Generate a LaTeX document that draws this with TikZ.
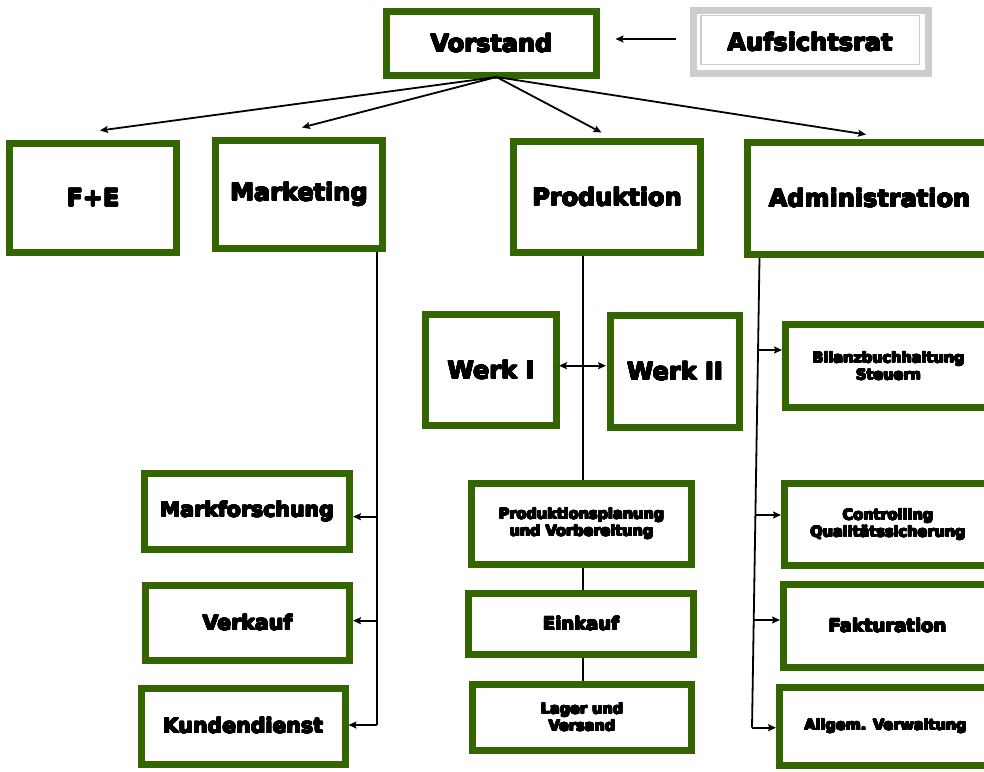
\documentclass[tikz,border=0pt]{standalone}
\usepackage{fontspec}
\usepackage{contour}
\contourlength{0.55pt}
\contournumber{16}
\newfontfamily\blk{DejaVu Sans Bold}
\newcommand\hv[1]{\contour{black}{#1}}
\usetikzlibrary{arrows.meta,backgrounds}
\definecolor{grn}{HTML}{336600}
\definecolor{lgr}{HTML}{CCCCCC}
\begin{document}
\begin{tikzpicture}[x=1pt,y=-1pt,
  box/.style={draw=grn,line width=7pt,fill=white,inner sep=0pt,align=center},
  fbig/.style={font=\blk\fontsize{24}{28}\selectfont},
  fmid/.style={font=\blk\fontsize{20.5}{24}\selectfont},
  fsm/.style={font=\blk\fontsize{18}{21}\selectfont},
  fxs/.style={font=\blk\fontsize{14.5}{17}\selectfont},
  ln/.style={line width=1.8pt,black},
  arr/.style={line width=1.8pt,black,-{Stealth[length=8pt,width=7pt,inset=1.5pt]}},
  darr/.style={line width=1.8pt,black,{Stealth[length=8pt,width=7pt,inset=1.5pt]}-{Stealth[length=8pt,width=7pt,inset=1.5pt]}}]
\useasboundingbox (0,0) rectangle (984,771);
\clip (0,0) rectangle (984,771);

% top level
\node[box,fbig,minimum width=210pt,minimum height=64pt] (vorstand) at (491.5,43.5) {\hv{Vorstand}};
\node[draw=lgr,line width=7pt,fill=white,inner sep=0pt,minimum width=235pt,minimum height=63pt] (aufs) at (811,42) {};
\node[draw=lgr,line width=1.5pt,inner sep=0pt,minimum width=218.5pt,minimum height=49pt] (aufsin) at (810.25,40) {};
\node[fbig] (aufstxt) at (810,42) {\hv{Aufsichtsrat}};

% second level
\node[box,fbig,minimum width=167pt,minimum height=109pt] (fe) at (93,198) {\hv{F+E}};
\node[box,fbig,minimum width=167pt,minimum height=108pt] (mkt) at (299,194.5) {\hv{Marketing}};
\node[box,fbig,minimum width=187pt,minimum height=111pt] (prod) at (607,197) {\hv{Produktion}};
\node[box,fbig,minimum width=244pt,minimum height=112.5pt] (admin) at (869.5,198.25) {\hv{Administration}};

% Werke
\node[box,fbig,minimum width=131pt,minimum height=111pt] (werk1) at (491,370) {\hv{Werk I}};
\node[box,fbig,minimum width=129pt,minimum height=112pt] (werk2) at (675,371.5) {\hv{Werk II}};

% Marketing column
\node[box,fmid,minimum width=205pt,minimum height=76pt] (markf) at (247,511.5) {\hv{Markforschung}};
\node[box,fmid,minimum width=204pt,minimum height=75pt] (verkauf) at (247.5,623) {\hv{Verkauf}};
\node[box,fmid,minimum width=204pt,minimum height=76pt] (kunden) at (243,726) {\hv{Kundendienst}};

% Produktion column
\node[box,fxs,minimum width=220pt,minimum height=80.7pt] (pp) at (581.5,524) {\hv{Produktionsplanung}\\\hv{und Vorbereitung}};
\node[box,fsm,minimum width=224.7pt,minimum height=60.7pt] (einkauf) at (581,624) {\hv{Einkauf}};
\node[box,fxs,minimum width=219pt,minimum height=66pt] (lager) at (582,717.3) {\hv{Lager und}\\\hv{Versand}};

% Administration column
\node[box,fxs,minimum width=206pt,minimum height=83pt] (bilanz) at (888.5,366) {\hv{Bilanzbuchhaltung}\\\hv{Steuern}};
\node[box,fxs,minimum width=207pt,minimum height=82pt] (contr) at (888,524.7) {\hv{Controlling}\\\hv{Qualitätssicherung}};
\node[box,fsm,minimum width=208pt,minimum height=83pt] (fakt) at (887.5,626) {\hv{Fakturation}};
\node[box,fxs,minimum width=212pt,minimum height=78pt] (allg) at (885.5,726.7) {\hv{Allgem. Verwaltung}};

% coordinates
\coordinate (vb) at (496.5,77);
\coordinate (mkb) at (377.3,725);
\coordinate (m1) at (377.3,516.7);
\coordinate (m2) at (377.3,620.7);
\coordinate (a1) at (758.0,350);
\coordinate (a2) at (755.4,515);
\coordinate (a3) at (753.7,620);
\coordinate (a4) at (752.0,727.7);

% connectors behind boxes
\begin{scope}[on background layer]
\fill[white] (0,0) rectangle (984,771);
\draw[ln] ([xshift=-24.3pt]prod.south) -- ([xshift=1.2pt]pp.north);
\draw[ln] ([xshift=1.2pt]pp.south) -- ([xshift=1.7pt]einkauf.north);
\draw[ln] ([xshift=1.7pt]einkauf.south) -- ([xshift=0.7pt]lager.north);
\draw[ln] ([xshift=78.3pt]mkt.south) -- (mkb);
\draw[ln] ([xshift=-110pt]admin.south) -- (a4);
\end{scope}

% arrows
\draw[arr] (vb) -- ([xshift=7pt,yshift=9.5pt]fe.north);
\draw[arr] (vb) -- ([xshift=3pt,yshift=9.5pt]mkt.north);
\draw[arr] (vb) -- ([xshift=-5.5pt,yshift=5.5pt]prod.north);
\draw[arr] (vb) -- ([xshift=-3.5pt,yshift=4pt]admin.north);
\draw[arr] ([xshift=-14.5pt,yshift=3pt]aufs.west) -- ([xshift=15.5pt,yshift=4.5pt]vorstand.east);
\draw[darr] ([xshift=-1pt,yshift=4.3pt]werk1.east) -- ([xshift=-1pt,yshift=5.8pt]werk2.west);

\draw[arr] (m1) -- (markf.east |- m1);
\draw[arr] (m2) -- (verkauf.east |- m2);
\draw[arr] (mkb) -- (kunden.east |- mkb);

\draw[arr] (a1) -- (bilanz.west |- a1);
\draw[arr] (a2) -- (contr.west |- a2);
\draw[arr] (a3) -- (fakt.west |- a3);
\draw[arr] (a4) -- (allg.west |- a4);
\end{tikzpicture}
\end{document}
